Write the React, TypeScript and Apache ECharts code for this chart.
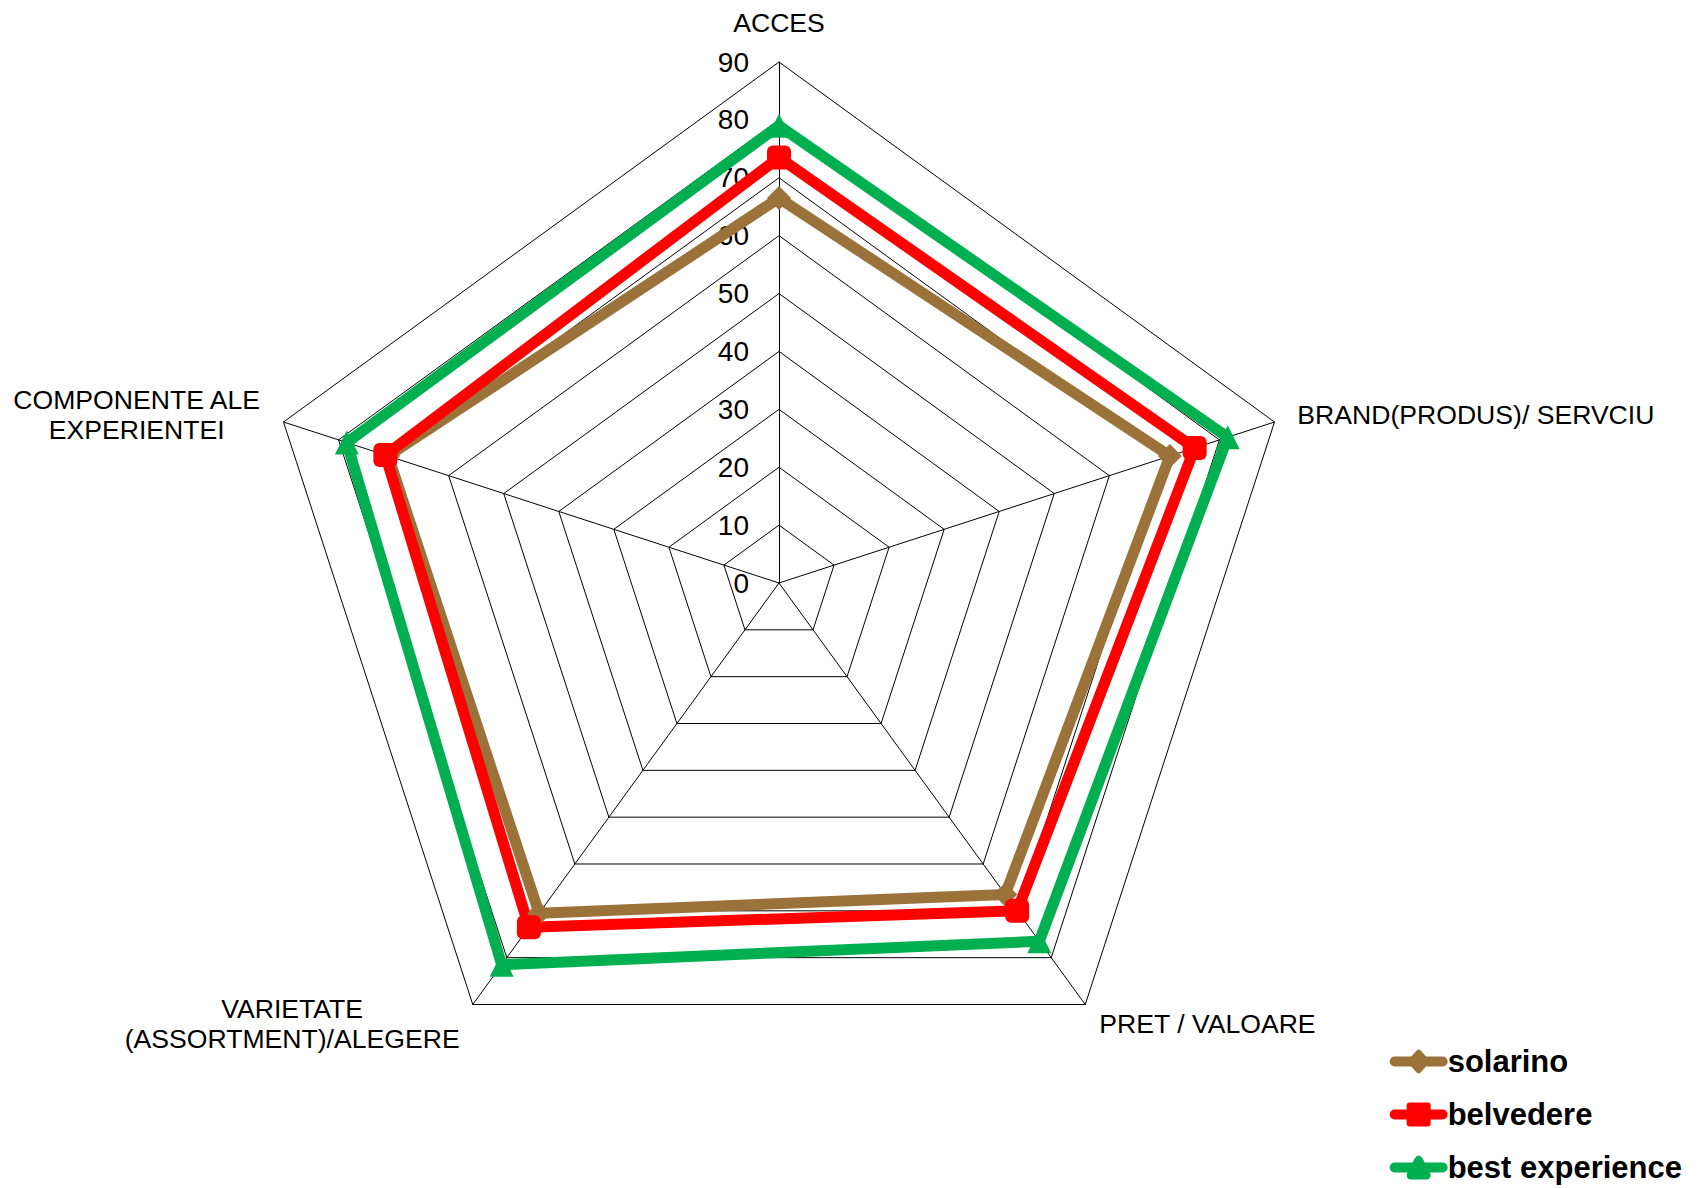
import React, { useEffect, useRef } from "react";
import * as echarts from "echarts";

// Indicators in ECharts' counter-clockwise order, starting at the top
const categories = [
  "ACCES",
  "COMPONENTE ALE EXPERIENTEI",
  "VARIETATE (ASSORTMENT)/ALEGERE",
  "PRET / VALOARE",
  "BRAND(PRODUS)/ SERVCIU",
];
const solarino = [66.5, 71, 70.5, 66.5, 71];
const belvedere = [73.5, 71.5, 73.5, 70, 75.5];
const bestExperience = [79, 78.5, 81.5, 76.5, 81.5];
const seriesNames = ["solarino", "belvedere", "best experience"];
const axisMax = 90;

const FONT = "'Liberation Sans', Arial, sans-serif";

const BAR = "M5 7 L53 7 A5 5 0 0 1 53 17 L5 17 A5 5 0 0 1 5 7 Z ";
const legendIcons = [
  "path://" + BAR + "M29 0 Q30 0 31 1 L40 11 Q41 12 40 13 L31 23 Q30 24 29 24 Q28 24 27 23 L18 13 Q17 12 18 11 L27 1 Q28 0 29 0 Z",
  "path://" + BAR + "M20 0 L38 0 Q41 0 41 3 L41 21 Q41 24 38 24 L20 24 Q17 24 17 21 L17 3 Q17 0 20 0 Z",
  "path://" + BAR + "M29 0 Q31 0 33 3 L41 19 Q41 24 37 24 L21 24 Q17 24 17 19 L25 3 Q27 0 29 0 Z",
];

export default function App() {
  const ref = useRef<HTMLDivElement>(null);
  useEffect(() => {
    if (!ref.current) return;
    const chart = echarts.init(ref.current, null, { renderer: "svg" });
    const colors = ["#9A723A", "#FF0000", "#00B050"];
    const symbols = ["diamond", "roundRect", "triangle"];
    const values = [solarino, belvedere, bestExperience];
    chart.setOption({
      animation: false,
      backgroundColor: "#ffffff",
      legend: {
        orient: "vertical",
        right: 12,
        bottom: 0,
        itemWidth: 58,
        itemHeight: 24,
        itemGap: 22,
        data: seriesNames.map((n, i) => ({ name: n, icon: legendIcons[i] })),
        textStyle: {
          fontFamily: FONT,
          fontSize: 31,
          fontWeight: "bold",
          color: "#000",
          padding: [0, 0, 0, -5],
        },
      },
      radar: {
        center: [779, 583],
        radius: 521,
        startAngle: 90,
        shape: "polygon",
        splitNumber: 9,
        nameGap: 24,
        axisName: {
          color: "#000",
          fontFamily: FONT,
          fontSize: 26.6,
          lineHeight: 30,
          formatter: (name: string) => {
            if (name === categories[1]) return "{a|COMPONENTE ALE}\n{a|EXPERIENTEI}";
            if (name === categories[2]) return "{b|VARIETATE}\n{b|(ASSORTMENT)/ALEGERE}";
            return name;
          },
          rich: {
            a: { width: 248, align: "center", fontSize: 26.6, lineHeight: 30, fontFamily: FONT, color: "#000" },
            b: { width: 333, align: "center", fontSize: 26.6, lineHeight: 30, fontFamily: FONT, color: "#000" },
          },
        },
        axisLine: { show: true, lineStyle: { color: "#000", width: 1 } },
        splitLine: { show: true, lineStyle: { color: "#000", width: 1 } },
        splitArea: { show: false },
        axisTick: { show: false },
        axisLabel: {
          show: false,
          color: "#000",
          fontFamily: FONT,
          fontSize: 28,
          margin: 30,
        },
        indicator: categories.map((c, i) => ({
          name: c,
          min: 0,
          max: axisMax,
          ...(i === 0 ? { axisLabel: { show: true } } : {}),
        })),
      },
      series: [
        {
          type: "radar",
          data: values.map((v, i) => ({
            name: seriesNames[i],
            value: v,
            symbol: symbols[i],
            symbolSize: 24,
            lineStyle: { color: colors[i], width: 11, join: "round" },
            itemStyle: { color: colors[i] },
          })),
        },
      ],
    });
    return () => chart.dispose();
  }, []);
  return (
    <div
      ref={ref}
      style={{ position: "absolute", left: 0, top: 0, width: 1699, height: 1188, background: "#fff" }}
    />
  );
}
